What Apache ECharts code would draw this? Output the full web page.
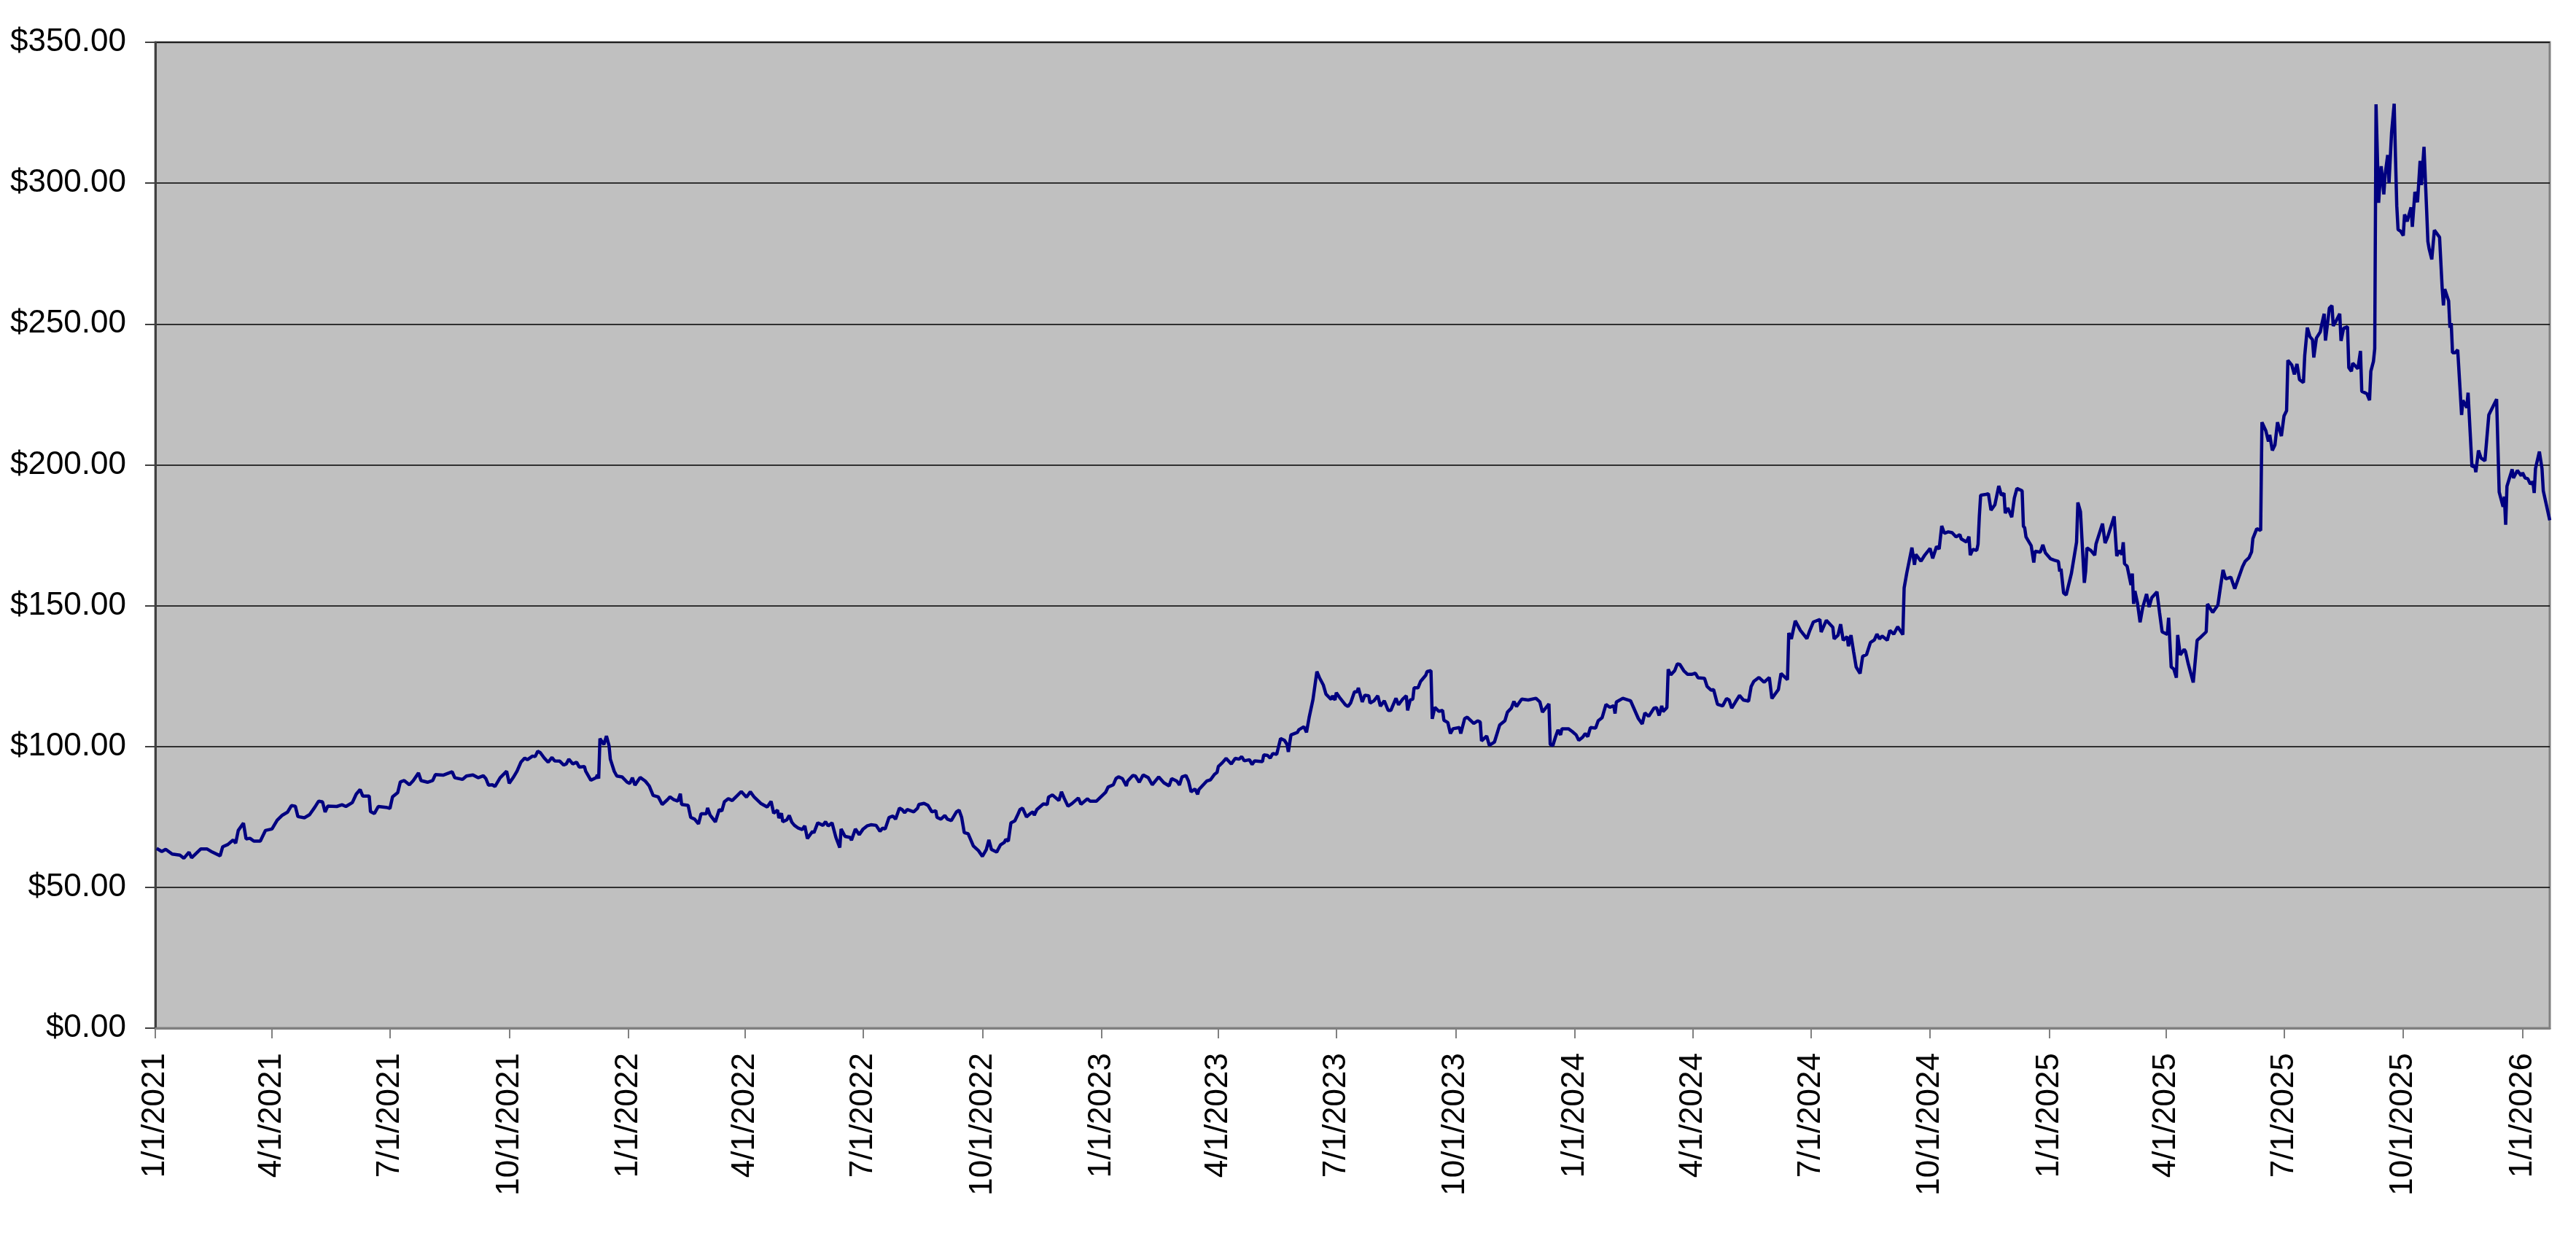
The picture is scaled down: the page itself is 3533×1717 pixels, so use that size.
<!DOCTYPE html>
<html>
<head>
<meta charset="utf-8">
<script src="https://cdn.jsdelivr.net/npm/echarts@6/dist/echarts.min.js"></script>
<style>
html,body{margin:0;padding:0;background:#ffffff;}
#chart{width:3533px;height:1717px;}
</style>
</head>
<body>
<div id="chart"></div>
<script>
// ---- data ----
const START_DATE = '2021-01-01';
const END_DAY_OFFSET = 1847; // last date on the axis (1/22/2026)

// trading-day offsets (days since START_DATE)
const dayOffsets = [
1,5,8,13,19,22,26,28,35,40,44,50,52,56,60,62,64,68,70,73,76,81,85,90,94,98,
102,105,108,110,115,119,123,126,129,131,133,140,144,147,152,155,158,160,165,166,169,172,178,181,183,187,189,192,196,199,203,205,210,214,216,222,229,
231,237,240,245,249,253,255,257,260,262,266,271,273,276,279,282,285,287,291,293,295,297,300,303,306,308,312,315,317,319,322,325,327,331,332,336,340,341,342,343,346,348,350,351,354,356,360,364,366,368,370,374,378,381,384,388,391,395,397,400,403,405,406,411,413,416,419,421,425,426,428,432,435,437,439,442,445,447,449,452,456,459,
462,467,472,475,477,480,481,483,484,487,489,491,493,496,499,501,503,507,508,511,515,517,519,522,525,528,529,532,536,537,540,541,543,546,549,552,556,559,561,563,566,569,571,574,576,578,580,585,588,589,593,596,599,602,603,606,609,611,614,618,620,622,624,627,631,635,638,641,643,645,649,652,655,656,658,660,663,665,667,669,672,675,677,678,680,685,688,689,692,
697,699,701,704,707,712,714,719,721,726,727,733,735,739,741,743,746,749,750,754,756,759,762,766,769,774,778,782,784,788,790,792,795,797,799,802,804,805,811,814,817,819,820,823,826,830,833,836,838,840,844,846,848,854,855,858,860,862,865,868,871,873,874,875,876,881,882,886,888,890,893,896,898,901,903,907,908,910,911,914,918,
920,922,925,927,928,931,933,936,937,940,943,945,948,951,953,957,959,962,965,966,968,970,971,974,976,980,981,984,985,987,990,993,994,997,999,1001,1006,1007,1010,1012,1017,1020,1022,1023,1027,1029,1033,1037,1041,1043,1046,1048,1050,1054,1059,1065,1068,1070,1075,1076,1078,1080,1082,1084,1085,1090,1093,1096,1098,1101,1103,1105,1107,1111,1113,1116,1119,1122,1125,1126,1127,1132,1133,1138,1140,1144,1147,1149,
1152,1156,1158,1160,1162,1163,1166,1167,1169,1172,1174,1176,1179,1182,1185,1188,1190,1195,1197,1200,1202,1205,1209,1212,1214,1216,1219,1222,1225,1229,1231,1233,1237,1241,1245,1247,1249,1252,1254,1259,1260,1262,1265,1269,1274,1276,1279,1284,1285,1289,1294,1295,1298,1300,1302,1305,1306,1308,1310,1312,1315,1317,1320,1323,1326,1328,1330,1332,1336,1338,1341,1344,1348,1349,1351,1355,1357,1358,1362,1365,1369,1371,1374,1376,1378,1380,1383,
1386,1389,1392,1393,1397,1399,1400,1402,1405,1406,1407,1408,1412,1414,1416,1419,1422,1424,1426,1427,1429,1432,1434,1436,1440,1441,1442,1443,1447,1449,1450,1454,1456,1457,1458,1462,1465,1468,1469,1470,1472,1474,1478,1482,1483,1485,1488,1489,1490,1493,1496,1497,1502,1504,1506,1511,1513,1515,1517,1518,1519,1521,1524,1525,1526,1527,1529,1531,1533,1536,1538,1540,1544,1546,1548,1552,1553,1555,1557,1559,1560,1562,1565,1566,1568,1572,1575,1578,1582,1583,1587,1591,1593,1595,1597,1601,1604,1610,1612,
1615,1617,1618,1621,1624,1625,1628,1630,1631,1633,1635,1637,1640,1642,1644,1645,1648,1650,1652,1654,1657,1658,1660,1662,1664,1665,1667,1670,1671,1673,1674,1677,1679,1680,1682,1685,1686,1688,1691,1692,1694,1695,1699,1701,1702,1706,1708,1709,1711,1712,
1713,1715,1716,1717,1719,1720,1722,1723,1725,
1727,1728,1729,1730,1732,1734,1735,1737,1740,1741,1743,1745,1747,1748,1750,1752,1753,1754,1756,1758,1762,1764,1765,1766,1769,1770,1771,1772,1774,1776,1779,1780,1783,1784,1787,1789,1790,1792,1794,1797,1800,1806,1808,1811,1812,1813,1814,1818,1819,1822,1825,1826,1828,1830,1832,1834,1835,1836,1839,1841,1842,1843,1847
];

// closing prices in dollars
const prices = [
63.8,62.7,63.5,61.8,61.4,60.3,62.5,60.5,63.6,63.6,62.5,61.2,64.4,65.2,66.8,65.7,70.2,72.8,67.2,67.4,66.4,66.4,70.2,70.7,73.8,75.6,
76.7,79.0,78.8,75.1,74.7,75.8,78.4,80.6,80.3,76.7,78.8,78.7,79.3,78.7,80.1,83.1,84.7,82.4,82.4,76.9,76.2,78.7,78.4,78.0,82.1,83.6,87.4,87.9,86.4,87.9,90.6,87.9,87.3,87.9,90.0,89.8,91.0,
88.9,88.3,89.5,89.9,88.9,89.6,88.6,86.3,86.4,85.8,88.9,91.2,86.9,88.9,91.2,94.4,95.9,95.3,96.6,96.4,98.3,97.8,95.9,94.4,96.1,94.9,94.8,93.4,93.8,95.5,93.8,94.4,92.7,92.9,91.2,88.0,88.9,89.9,88.6,102.8,100.7,103.7,100.3,95.5,91.2,89.5,89.2,87.3,86.9,88.9,86.3,89.0,87.7,86.0,82.6,82.1,79.4,81.1,82.1,81.1,80.6,83.2,79.4,79.1,74.8,74.2,72.5,76.1,76.1,78.2,75.6,73.2,77.6,77.1,80.4,81.5,80.8,81.7,82.6,84.0,82.0,83.9,
82.0,79.8,78.5,80.5,76.3,77.4,74.6,76.3,73.3,73.9,75.5,73.1,72.0,71.0,70.5,71.8,67.3,69.9,69.3,72.9,72.0,73.3,71.8,72.9,67.7,64.1,70.7,68.1,67.7,66.7,70.7,70.5,68.7,70.7,71.8,72.2,72.0,69.9,71.0,70.7,74.8,75.3,74.2,78.1,77.6,76.5,77.6,76.8,78.1,79.4,79.8,79.1,76.8,77.2,74.8,74.2,75.5,74.2,73.7,76.8,77.4,74.8,69.4,69.0,64.7,63.0,61.0,63.4,66.8,63.4,62.5,65.1,66.0,67.0,66.4,72.9,73.6,75.5,77.6,78.1,75.0,76.2,76.8,75.6,77.6,79.6,79.4,82.0,82.8,
80.8,83.9,81.7,78.8,79.7,81.7,79.5,81.4,80.6,80.6,80.2,83.7,85.6,86.4,88.6,89.2,88.6,86.0,87.7,89.7,89.5,87.3,89.9,88.9,86.4,89.2,87.1,86.0,88.6,87.7,86.3,89.2,89.7,87.7,83.9,84.9,83.0,84.7,87.7,88.2,90.1,90.8,92.9,94.2,95.8,93.8,95.8,95.5,96.4,94.9,95.3,93.6,94.9,94.6,97.0,96.8,95.9,97.5,97.2,102.8,102.2,100.7,98.1,98.1,104.1,105.0,105.9,107.0,105.0,110.2,116.7,126.6,124.4,121.8,118.6,116.7,118.0,116.5,119.1,117.1,114.8,
114.2,115.4,119.4,119.4,120.8,115.8,118.2,118.0,115.4,116.2,118.0,114.3,116.2,112.8,112.8,117.1,114.8,116.7,118.0,112.8,116.5,116.8,120.8,120.8,123.1,125.3,126.6,126.9,109.8,113.9,112.5,112.8,109.3,108.5,104.6,106.3,106.7,104.6,109.9,110.4,108.2,109.1,108.7,102.0,103.7,100.4,101.6,107.6,109.1,112.2,113.6,116.0,114.2,116.8,116.5,117.1,115.8,112.2,115.1,100.7,100.3,103.3,105.9,104.1,106.3,106.3,105.3,104.1,102.2,103.3,104.6,103.5,106.7,106.5,109.1,110.2,114.9,113.9,114.5,111.7,115.8,117.1,117.5,116.2,114.1,109.9,108.0,111.9,
110.7,113.6,113.8,111.0,114.4,112.4,113.8,127.4,125.4,126.9,129.3,129.1,126.9,125.6,125.6,126.0,124.4,124.2,121.3,120.0,120.2,115.0,114.4,117.0,116.5,113.6,115.9,118.1,116.5,116.1,121.3,123.1,124.5,122.8,124.5,117.0,118.3,120.2,125.9,123.7,140.3,138.2,144.6,141.2,138.3,140.9,144.2,145.1,140.6,144.8,142.3,138.2,139.5,143.4,137.7,139.0,135.6,139.5,133.7,128.2,125.9,132.0,132.6,136.9,137.8,139.9,138.2,139.2,137.7,141.2,139.9,142.5,139.7,156.3,161.5,170.6,164.5,168.2,165.8,168.0,170.3,166.8,171.0,170.1,178.3,175.7,176.2,
175.9,174.4,175.2,173.7,172.6,174.5,167.9,170.0,169.6,171.8,181.7,189.2,189.5,189.7,183.9,185.8,192.5,189.2,189.9,182.8,184.7,181.4,188.2,191.6,190.8,178.2,177.6,174.4,171.3,165.3,169.3,169.0,171.6,171.6,168.7,166.6,166.1,165.7,162.1,163.1,154.5,153.8,161.4,172.6,186.6,183.4,158.1,162.1,170.5,169.6,167.9,171.9,179.1,172.2,174.4,181.7,167.6,169.6,168.1,172.5,164.9,164.0,157.3,161.4,150.6,155.2,150.9,144.1,149.3,154.1,149.5,152.8,154.9,147.6,140.7,139.8,145.7,128.2,127.5,124.4,139.6,132.5,134.5,133.8,129.6,122.7,137.7,138.9,140.7,150.6,147.6,150.2,156.6,162.7,159.5,160.1,156.0,163.8,165.7,
167.0,169.1,173.8,177.3,176.7,215.1,212.1,208.3,210.6,205.1,207.0,215.1,210.2,217.3,219.2,237.1,235.4,232.1,235.8,230.2,229.2,238.8,248.7,245.5,244.4,238.1,245.0,247.2,249.6,253.6,244.1,255.6,256.5,249.3,250.9,253.6,244.0,248.5,249.0,234.5,233.2,236.1,234.1,240.4,226.1,225.2,222.9,233.2,236.7,241.2,
328.0,293.0,300.0,306.0,296.0,303.0,310.0,300.0,318.0,
328.2,309.3,291.9,283.5,282.9,281.4,288.9,286.4,291.4,284.5,296.9,293.2,307.9,299.3,312.9,290.8,279.3,276.6,272.9,283.3,280.8,262.9,256.6,262.4,258.2,248.7,250.3,239.8,239.8,240.8,217.7,222.9,220.3,225.6,199.3,199.8,197.4,205.1,202.4,201.4,217.7,223.3,190.3,185.1,188.7,178.7,192.4,198.4,195.3,198.0,196.1,197.2,195.3,195.1,193.2,194.0,190.0,198.7,204.7,198.7,190.8,190.8,180.3
];

// axis tick labels
const xTickLabels = [
'1/1/2021','4/1/2021','7/1/2021','10/1/2021',
'1/1/2022','4/1/2022','7/1/2022','10/1/2022',
'1/1/2023','4/1/2023','7/1/2023','10/1/2023',
'1/1/2024','4/1/2024','7/1/2024','10/1/2024',
'1/1/2025','4/1/2025','7/1/2025','10/1/2025',
'1/1/2026'
];
const yTickValues = [0, 50, 100, 150, 200, 250, 300, 350];

// ---- build the chart ----
const DAY_MS = 86400000;
const t0 = Date.parse(START_DATE + 'T00:00:00Z');
const seriesData = dayOffsets.map((d, i) => [t0 + d * DAY_MS, prices[i]]);
const tickTimes = xTickLabels.map(s => {
  const p = s.split('/').map(Number);
  return Date.UTC(p[2], p[0] - 1, p[1]);
});
function fmtDate(v) {
  const dt = new Date(v);
  return (dt.getUTCMonth() + 1) + '/' + dt.getUTCDate() + '/' + dt.getUTCFullYear();
}
const FONT = '"Liberation Sans", Arial, sans-serif';

const chart = echarts.init(document.getElementById('chart'), null, {renderer: 'canvas', width: 3533, height: 1717});
chart.setOption({
  animation: false,
  backgroundColor: '#ffffff',
  grid: {
    left: 213, right: 36, top: 58, bottom: 307,
    show: true,
    backgroundColor: '#C0C0C0',
    borderColor: '#808080',
    borderWidth: 3
  },
  xAxis: {
    type: 'value',
    min: t0,
    max: t0 + END_DAY_OFFSET * DAY_MS,
    scale: true,
    axisLine: {show: true, onZero: false, lineStyle: {color: '#808080', width: 3}},
    axisTick: {show: true, inside: false, length: 14, customValues: tickTimes, lineStyle: {color: '#808080', width: 2}},
    axisLabel: {
      show: true,
      customValues: tickTimes,
      rotate: 90,
      margin: 34,
      fontSize: 44,
      fontFamily: FONT,
      color: '#000000',
      formatter: function (v) { return fmtDate(v); }
    },
    splitLine: {show: false}
  },
  yAxis: {
    type: 'value',
    min: yTickValues[0],
    max: yTickValues[yTickValues.length - 1],
    interval: 50,
    axisLine: {show: true, lineStyle: {color: '#404040', width: 3}},
    axisTick: {show: true, inside: false, length: 14, lineStyle: {color: '#404040', width: 2}},
    axisLabel: {
      margin: 40,
      fontSize: 44,
      fontFamily: FONT,
      color: '#000000',
      formatter: function (v) { return '$' + v.toFixed(2); }
    },
    splitLine: {show: true, lineStyle: {color: '#000000', width: 1.5}}
  },
  series: [{
    type: 'line',
    data: seriesData,
    showSymbol: false,
    symbol: 'none',
    lineStyle: {color: '#000080', width: 4.5},
    itemStyle: {color: '#000080'}
  }]
});
</script>
</body>
</html>
